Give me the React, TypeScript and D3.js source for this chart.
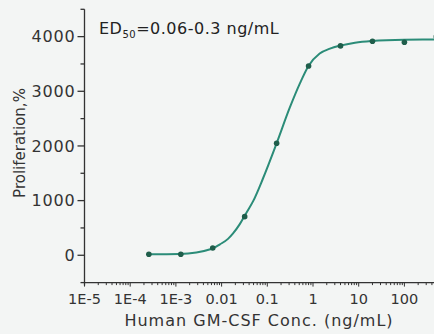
import React from 'react';
import * as d3 from 'd3';

// GM-CSF dose response, 5-fold dilution series (measured points)
const concentrations = [0.000256, 0.00128, 0.0064, 0.032, 0.16, 0.8, 4, 20, 100, 500];
const proliferation = [18, 18, 134, 707, 2050, 3464, 3830, 3915, 3897, 4000];
// fitted curve
const fitConc = [0.00025, 0.0012, 0.0062, 0.0092, 0.0138, 0.0178, 0.025, 0.035, 0.049, 0.08, 0.16, 0.31, 0.52, 0.79, 1.4, 2.35, 3.9, 8.3, 19, 100, 500];
const fitValues = [18, 24, 120, 200, 300, 400, 570, 780, 990, 1400, 2049, 2700, 3150, 3460, 3690, 3780, 3835, 3890, 3921, 3943, 3946];
const yMajorTicks = [0, 1000, 2000, 3000, 4000];
const yMinorTicks = [-500, 500, 1500, 2500, 3500, 4500];
const xMajorTicks = [1e-5, 1e-4, 1e-3, 0.01, 0.1, 1, 10, 100];
const xTickLabels = ['1E-5', '1E-4', '1E-3', '0.01', '0.1', '1', '10', '100'];

const W = 434;
const H = 334;
const FONT = "'DejaVu Sans', sans-serif";
const AXIS = '#333333';

const App = () => {
  const x = d3.scaleLog().domain([1e-5, 1000]).range([84.5, 450.1]);
  const y = d3.scaleLinear().domain([-500, 4500]).range([282.6, 9.3]);
  const points = concentrations.map((c, i) => ({ c, v: proliferation[i] }));
  const fit = fitConc.map((c, i) => ({ c, v: fitValues[i] }));

  const line = d3.line<{ c: number; v: number }>()
    .x(d => x(d.c))
    .y(d => y(d.v))
    .curve(d3.curveMonotoneX);

  const logTicks = x.ticks().filter(t => t >= 1e-5 && t <= 1000);
  const x0 = x.range()[0];
  const yBase = y.range()[0];

  return (
    <svg width={W} height={H} style={{ position: 'absolute', left: 0, top: 0, background: '#f3f5f4' }}
      fontFamily={FONT}>
      <defs>
        <clipPath id="plot">
          <rect x={x0} y={0} width={W - x0} height={yBase} />
        </clipPath>
      </defs>

      {/* y axis */}
      <line x1={x0} x2={x0} y1={y(4500)} y2={yBase + 3} stroke={AXIS} strokeWidth={1.3} />
      {yMajorTicks.map(t => (
        <g key={t}>
          <line x1={x0 - 7} x2={x0} y1={y(t)} y2={y(t)} stroke={AXIS} strokeWidth={1.3} />
          <text x={x0 - 9} y={y(t)} dy="0.36em" textAnchor="end" fontSize={16} letterSpacing={0.8} fill="#333">{t}</text>
        </g>
      ))}
      {yMinorTicks.map(t => (
        <line key={t} x1={x0 - 4} x2={x0} y1={y(t)} y2={y(t)} stroke={AXIS} strokeWidth={1.3} />
      ))}

      {/* x axis */}
      <line x1={x0} x2={W} y1={yBase} y2={yBase} stroke={AXIS} strokeWidth={1.3} />
      {logTicks.map(t => {
        const major = Math.abs(Math.log10(t) - Math.round(Math.log10(t))) < 1e-9;
        return (
          <line key={t} x1={x(t)} x2={x(t)} y1={yBase} y2={yBase + (major ? 4 : 2.5)}
            stroke={AXIS} strokeWidth={1} />
        );
      })}
      {xMajorTicks.map((t, i) => (
        <text key={t} x={x(t)} y={304} textAnchor="middle" fontSize={14.5} fill="#333">{xTickLabels[i]}</text>
      ))}

      {/* titles */}
      <text x={259} y={326} textAnchor="middle" fontSize={16} letterSpacing={1} fill="#333">Human GM-CSF Conc. (ng/mL)</text>
      <text transform="translate(25,143) rotate(-90)" textAnchor="middle" fontSize={15} fill="#333">Proliferation,%</text>
      <text x={99} y={34} fontSize={16} letterSpacing={0.5} fill="#222">
        ED<tspan fontSize={10} dy={4}>50</tspan><tspan dy={-4}>=0.06-0.3 ng/mL</tspan>
      </text>

      {/* curve and points */}
      <g clipPath="url(#plot)">
        <path d={line(fit) ?? ''} fill="none" stroke="#2b8c78" strokeWidth={2} />
        {points.map(p => (
          <circle key={p.c} cx={x(p.c)} cy={y(p.v)} r={2.8} fill="#1f5e4b" />
        ))}
      </g>
    </svg>
  );
};

export default App;
